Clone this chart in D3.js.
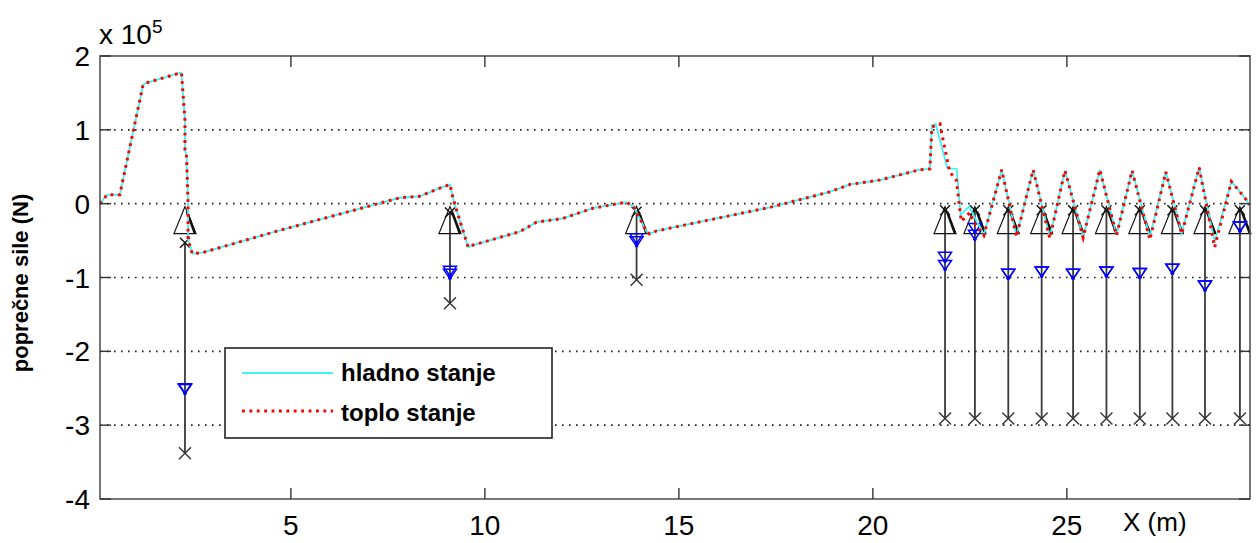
<!DOCTYPE html>
<html><head><meta charset="utf-8">
<script src="https://cdn.jsdelivr.net/npm/d3@7"></script>
<style>
body{margin:0;background:#fff}
text{font-family:"Liberation Sans",Arial,sans-serif}
</style>
</head><body><svg id="c" width="1256" height="543"></svg>
<script>
// ---- data (forces in units of 1e5 N, positions in m) ----
const warmX = [0.08,0.26,0.59,1.19,1.24,2.14,2.18,2.27,2.27,2.31,2.35,2.35,2.46,2.74,4.72,7.81,8.32,8.84,9.10,9.18,9.36,9.57,9.70,10.90,11.33,12.01,12.79,13.65,13.83,14.17,14.25,14.42,15.88,17.35,18.89,19.41,20.18,21.21,21.47,21.52,21.73,21.81,21.98,22.15,22.28,22.50,22.60,22.86,23.32,23.70,24.13,24.56,24.95,25.42,25.85,26.28,26.68,27.14,27.55,27.96,28.41,28.81,29.24,29.63,29.70];
const warmY = [0.00,0.12,0.12,1.61,1.63,1.77,1.77,1.13,0.73,0.64,0.00,-0.49,-0.68,-0.66,-0.36,0.08,0.10,0.21,0.26,0.07,-0.24,-0.59,-0.56,-0.38,-0.25,-0.20,-0.06,0.02,-0.04,-0.38,-0.41,-0.37,-0.21,-0.05,0.16,0.26,0.32,0.46,0.47,1.04,1.08,0.86,0.43,0.32,-0.24,-0.12,-0.25,-0.43,0.46,-0.45,0.46,-0.47,0.45,-0.46,0.46,-0.43,0.45,-0.49,0.43,-0.41,0.49,-0.59,0.30,0.05,-0.02];
const coldX = [0.08,0.26,0.59,1.19,1.24,2.14,2.18,2.27,2.27,2.31,2.35,2.35,2.46,2.74,4.72,7.81,8.32,8.84,9.10,9.18,9.36,9.57,9.70,10.90,11.33,12.01,12.79,13.65,13.83,14.17,14.25,14.42,15.88,17.35,18.89,19.41,20.18,21.21,21.47,21.52,21.62,21.92,22.16,22.26,22.48,22.86,23.32,23.70,24.13,24.56,24.95,25.42,25.85,26.28,26.68,27.14,27.55,27.96,28.41,28.81,29.24,29.63,29.70];
const coldY = [0.00,0.12,0.12,1.61,1.63,1.77,1.77,1.13,0.73,0.64,0.00,-0.49,-0.68,-0.66,-0.36,0.08,0.10,0.21,0.26,0.07,-0.24,-0.59,-0.56,-0.38,-0.25,-0.20,-0.06,0.02,-0.04,-0.38,-0.41,-0.37,-0.21,-0.05,0.16,0.26,0.32,0.46,0.47,1.06,1.08,0.48,0.47,-0.15,-0.04,-0.42,0.46,-0.44,0.46,-0.45,0.45,-0.45,0.46,-0.42,0.45,-0.45,0.43,-0.40,0.49,-0.52,0.30,0.05,-0.02];
const supportX = [2.27,9.10,13.91,21.86,22.63,23.49,24.35,25.16,26.02,26.88,27.72,28.56,29.46];
const supportLevel = -0.23;
const reactTop = [-0.53,-0.12,-0.11,-0.09,-0.09,-0.09,-0.09,-0.09,-0.09,-0.09,-0.09,-0.09,-0.09];
const reactBottom = [-3.38,-1.35,-1.03,-2.91,-2.91,-2.91,-2.91,-2.91,-2.91,-2.91,-2.91,-2.91,-2.91];
const reactCold = [-2.50,-0.91,-0.47,-0.72,-0.33,-0.95,-0.92,-0.95,-0.92,-0.94,-0.88,-1.11,-0.31];
const reactWarm = [-2.51,-0.95,-0.51,-0.83,-0.42,-0.95,-0.92,-0.95,-0.92,-0.94,-0.88,-1.11,-0.31];
const xTicks = [5,10,15,20,25];
const yTicks = [-4,-3,-2,-1,0,1,2];
const legendLabels = ["hladno stanje","toplo stanje"];
const yLabel = "poprečne sile (N)";
const xLabel = "X (m)";

// ---- chart ----
const svg = d3.select("#c");
const L=100,R=1250,T=56,B=499;
const x = d3.scaleLinear().domain([0.08,29.72]).range([L,R]);
const y = d3.scaleLinear().domain([-4,2]).range([B,T]);

svg.append("rect").attr("width",1256).attr("height",543).attr("fill","#fff");

// grid
svg.append("g").selectAll("line").data(yTicks.filter(v=>v>-4&&v<2)).join("line")
  .attr("x1",L).attr("x2",R).attr("y1",d=>y(d)).attr("y2",d=>y(d))
  .attr("stroke","#222").attr("stroke-width",1.6).attr("stroke-dasharray","1.6,5.4");

// supports
const sup = supportX.map((sx,i)=>({x:sx,top:reactTop[i],bot:reactBottom[i],c:reactCold[i],w:reactWarm[i]}));
const gs = svg.append("g");
gs.selectAll("line.v").data(sup).join("line").attr("class","v")
  .attr("x1",d=>x(d.x)).attr("x2",d=>x(d.x)).attr("y1",d=>y(d.top)).attr("y2",d=>y(d.bot))
  .attr("stroke","#3a3a3a").attr("stroke-width",1.8);
gs.selectAll("path.tri").data(sup).join("path").attr("class","tri")
  .attr("d",d=>{const cx=x(d.x),cy=y(supportLevel);return `M${cx},${cy-14}L${cx+11},${cy+13}L${cx-11},${cy+13}Z`;})
  .attr("fill","none").attr("stroke","#111").attr("stroke-width",1.2);
gs.selectAll("path.edge").data(sup).join("path").attr("class","edge")
  .attr("d",d=>{const cx=x(d.x),cy=y(supportLevel);return `M${cx+2},${cy-9}L${cx+10},${cy+13}`;})
  .attr("fill","none").attr("stroke","#111").attr("stroke-width",2.6);
function xmark(sel,key,s,col){
  sel.selectAll("path."+key).data(sup).join("path").attr("class",key)
   .attr("d",d=>{const cx=x(d.x),cy=y(d[key]);return `M${cx-s},${cy-s}L${cx+s},${cy+s}M${cx-s},${cy+s}L${cx+s},${cy-s}`;})
   .attr("stroke",col).attr("stroke-width",1.4).attr("fill","none");
}
xmark(gs,"top",5,"#111");
xmark(gs,"bot",6,"#333");
["c","w"].forEach(k=>{
  gs.selectAll("path.b"+k).data(sup).join("path").attr("class","b"+k)
    .attr("d",d=>{const cx=x(d.x),cy=y(d[k]);return `M${cx-6.5},${cy-4.5}L${cx+6.5},${cy-4.5}L${cx},${cy+5}Z`;})
    .attr("fill","none").attr("stroke","#0000ff").attr("stroke-width",1.5);
  gs.selectAll("circle.b"+k).data(sup).join("circle").attr("class","b"+k)
    .attr("cx",d=>x(d.x)).attr("cy",d=>y(d[k])+4.5).attr("r",1.8).attr("fill","#0000ff");
});

// lines
const line = d3.line().x(d=>x(d[0])).y(d=>y(d[1]));
svg.append("path").datum(coldX.map((v,i)=>[v,coldY[i]])).attr("d",line)
  .attr("fill","none").attr("stroke","#40f4f4").attr("stroke-width",1.8);
svg.append("path").datum(warmX.map((v,i)=>[v,warmY[i]])).attr("d",line)
  .attr("fill","none").attr("stroke","#ff0000").attr("stroke-width",3).attr("stroke-dasharray","2.8,4.6");

// axes box
svg.append("rect").attr("x",L).attr("y",T).attr("width",R-L).attr("height",B-T)
  .attr("fill","none").attr("stroke","#555").attr("stroke-width",1.6);
const tl=11;
const gt = svg.append("g").attr("stroke","#333").attr("stroke-width",1.4);
gt.selectAll("line.xb").data(xTicks).join("line").attr("class","xb")
  .attr("x1",d=>x(d)).attr("x2",d=>x(d)).attr("y1",B).attr("y2",B-tl);
gt.selectAll("line.xt").data(xTicks).join("line").attr("class","xt")
  .attr("x1",d=>x(d)).attr("x2",d=>x(d)).attr("y1",T).attr("y2",T+tl);
gt.selectAll("line.yl").data(yTicks).join("line").attr("class","yl")
  .attr("x1",L).attr("x2",L+tl).attr("y1",d=>y(d)).attr("y2",d=>y(d));
gt.selectAll("line.yr").data(yTicks).join("line").attr("class","yr")
  .attr("x1",R).attr("x2",R-tl).attr("y1",d=>y(d)).attr("y2",d=>y(d));

// tick labels
svg.append("g").selectAll("text").data(xTicks).join("text")
  .attr("x",d=>x(d)).attr("y",535).attr("text-anchor","middle")
  .attr("font-size",28).attr("fill","#000").text(d=>d);
svg.append("g").selectAll("text").data(yTicks).join("text")
  .attr("x",90).attr("y",d=>y(d)+10).attr("text-anchor","end")
  .attr("font-size",28).attr("fill","#000").text(d=>d);
svg.append("text").attr("x",1123).attr("y",531).attr("font-size",26).text(xLabel);
const ex = svg.append("text").attr("x",99).attr("y",44).attr("font-size",28);
ex.append("tspan").text("x 10");
ex.append("tspan").attr("dy",-11).attr("font-size",19).text("5");
svg.append("text").attr("transform","translate(28,283) rotate(-90)").attr("text-anchor","middle")
  .attr("font-size",22).attr("font-weight","bold").text(yLabel);

// legend
const lg = svg.append("g");
lg.append("rect").attr("x",225).attr("y",348).attr("width",327).attr("height",90)
  .attr("fill","#fff").attr("stroke","#222").attr("stroke-width",1.6);
lg.append("line").attr("x1",242).attr("x2",333).attr("y1",373).attr("y2",373)
  .attr("stroke","#40f4f4").attr("stroke-width",1.8);
lg.append("line").attr("x1",242).attr("x2",333).attr("y1",411).attr("y2",411)
  .attr("stroke","#ff0000").attr("stroke-width",3).attr("stroke-dasharray","2.8,4.6");
lg.selectAll("text").data(legendLabels).join("text")
  .attr("x",341).attr("y",(d,i)=>381+i*40).attr("font-size",24).attr("font-weight","bold").text(d=>d);
</script>
</body></html>
